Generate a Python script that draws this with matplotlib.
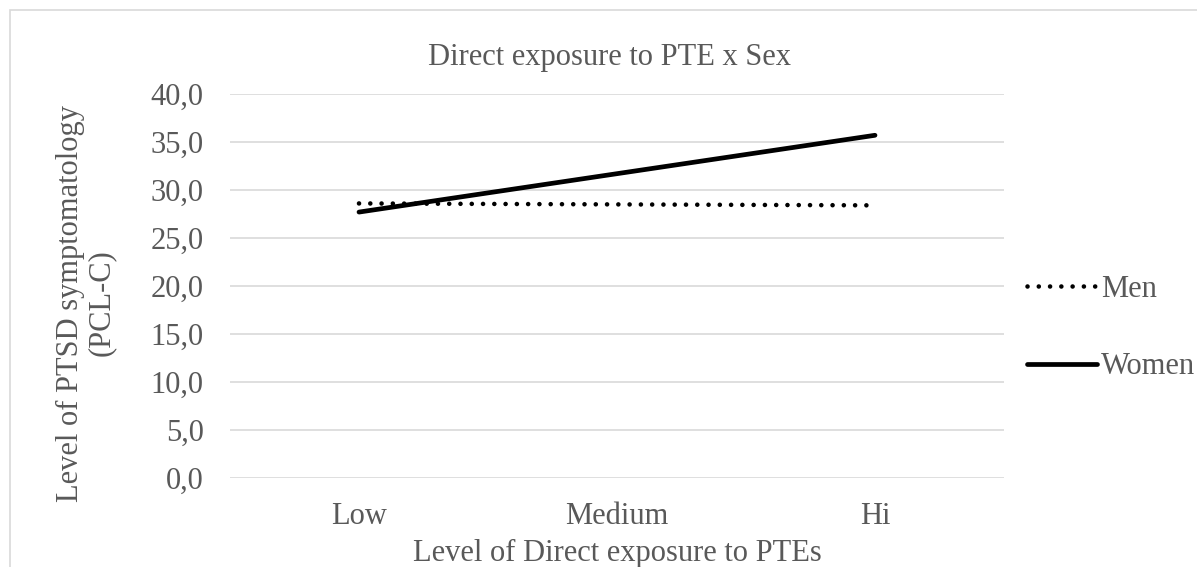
import matplotlib
matplotlib.use("Agg")
from matplotlib import pyplot as plt
from matplotlib.patches import Rectangle
from matplotlib.ticker import FuncFormatter, MultipleLocator

categories = ["Low", "Medium", "Hi"]
men = [28.6, 28.5, 28.4]
women = [27.7, 31.7, 35.7]

title = "Direct exposure to PTE x Sex"
x_label = "Level of Direct exposure to PTEs"
y_label = "Level of PTSD symptomatology\n(PCL-C)"

text_color = "#595959"
grid_color = "#d9d9d9"

plt.rcParams["font.family"] = ["Liberation Serif", "DejaVu Serif"]
plt.rcParams["font.size"] = 22

fig = plt.figure(figsize=(11.97, 5.67), dpi=100)
ax = fig.add_axes([230 / 1197, 1 - 478 / 567, 774 / 1197, 384 / 567])

x = range(len(categories))
ax.plot(x, men, color="black", linewidth=3.3,
        linestyle=(0, (0.01, 2.45)), dash_capstyle="round", label="Men")
ax.plot(x, women, color="black", linewidth=3.4,
        solid_capstyle="round", label="Women")

ax.set_xlim(-0.5, len(categories) - 0.5)
ax.set_ylim(0, 40)
ax.yaxis.set_major_locator(MultipleLocator(5))
ax.yaxis.set_major_formatter(
    FuncFormatter(lambda v, _: f"{v:.1f}".replace(".", ",")))
ax.set_xticks(list(x))
ax.set_xticklabels(categories)
ax.tick_params(axis="both", length=0, colors=text_color)
ax.tick_params(axis="y", pad=19)
ax.tick_params(axis="x", pad=17)
ax.grid(axis="y", color=grid_color, linewidth=1.2)
ax.set_axisbelow(True)
for spine in ax.spines.values():
    spine.set_visible(False)

fig.text(609 / 1197, 1 - 58 / 567, title, ha="center", va="center",
         color=text_color)
fig.text(617 / 1197, 1 - 553 / 567, x_label, ha="center", va="center",
         color=text_color)
fig.text(86 / 1197, 1 - 303 / 567, y_label, ha="center", va="center",
         rotation=90, color=text_color, multialignment="center",
         linespacing=1.1)

leg = ax.legend(loc="center left", bbox_to_anchor=(1027 / 1197, 1 - 328 / 567),
                bbox_transform=fig.transFigure, frameon=False,
                borderpad=0, borderaxespad=0, handlelength=2.3,
                handletextpad=0.12, labelspacing=1.6)
for t in leg.get_texts():
    t.set_color(text_color)

fig.patches.append(Rectangle((10 / 1197, -0.1), 2, 1 - 10 / 567 + 0.1,
                             transform=fig.transFigure, fill=False,
                             edgecolor=grid_color, linewidth=1.2))

fig.savefig("out.png", dpi=100)
